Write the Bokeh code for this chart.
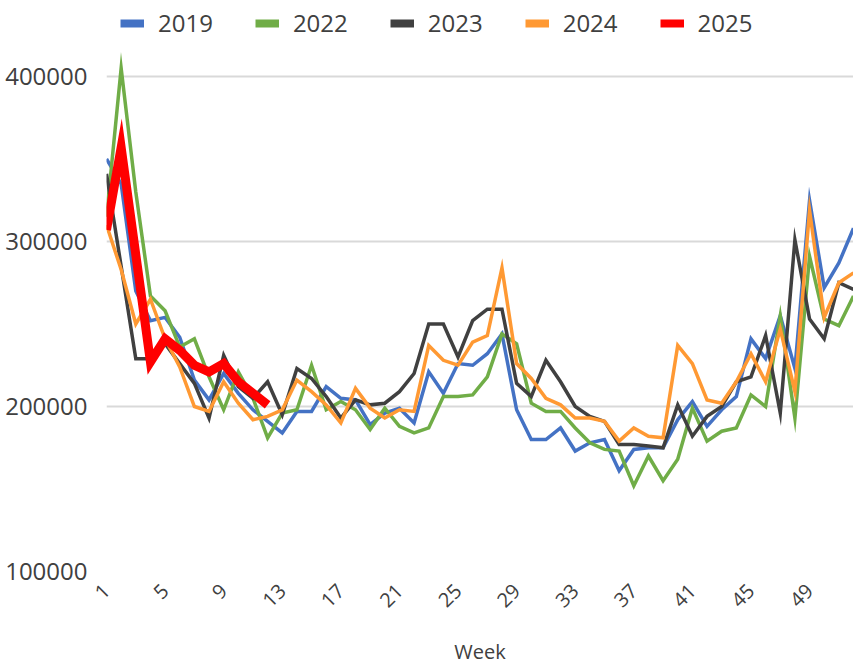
import math
from bokeh.plotting import figure
from bokeh.models import Legend, LegendItem, FixedTicker, ColumnDataSource, Range1d
from bokeh.embed import file_html
from bokeh.resources import INLINE

weeks = list(range(1, 53))

y2019 = [350, 335, 270, 252, 254, 242, 216, 204, 220, 208,
         198, 191, 184, 197, 197, 212, 205, 204, 189, 196,
         199, 190, 221, 208, 226, 225, 232, 244, 198, 180,
         180, 187, 173, 178, 180, 161, 174, 175, 175, 192,
         203, 188, 198, 206, 241, 229, 255, 223, 325, 272,
         287, 308]
y2022 = [315, 405, 330, 267, 258, 236, 241, 218, 198, 221,
         205, 181, 196, 198, 225, 198, 203, 198, 186, 199,
         188, 184, 187, 206, 206, 207, 218, 244, 238, 202,
         197, 197, 187, 178, 174, 173, 152, 170, 155, 168,
         199, 179, 185, 187, 207, 200, 255, 193, 291, 253,
         249, 267]
y2023 = [341, 285, 229, 229, 238, 226, 214, 193, 231, 212,
         205, 215, 195, 223, 217, 206, 193, 204, 201, 202,
         209, 220, 250, 250, 230, 252, 259, 259, 214, 206,
         228, 215, 200, 194, 191, 177, 177, 176, 175, 201,
         182, 194, 200, 215, 218, 243, 196, 301, 253, 241,
         275, 271]
y2024 = [310, 283, 250, 265, 241, 224, 200, 197, 215, 202,
         192, 194, 198, 216, 209, 201, 190, 211, 199, 193,
         198, 197, 237, 228, 225, 239, 243, 284, 226, 217,
         205, 201, 193, 193, 191, 179, 187, 182, 181, 237,
         226, 204, 202, 215, 232, 215, 247, 209, 319, 254,
         275, 281]
y2025 = [307, 357, 292, 227, 241, 234, 225, 221, 226, 215, 208, 201]

series_names = ["2019", "2022", "2023", "2024", "2025"]
series_values = [y2019, y2022, y2023, y2024, y2025]
series_colors = ["#4472C4", "#70AD47", "#404040", "#FF9933", "#FF0000"]
series_widths = [3.5, 3.5, 3.5, 3.5, 9]

y_ticks = [100000, 200000, 300000, 400000]
y_tick_labels = ["100000", "200000", "300000", "400000"]
x_ticks = [1, 5, 9, 13, 17, 21, 25, 29, 33, 37, 41, 45, 49]
x_tick_labels = [str(t) for t in x_ticks]

FONT = "Open Sans"
TXT = "#404040"

# frame spans from the top of the canvas (legend area) down to the 100000 line
p = figure(frame_width=747, frame_height=571,
           x_range=(1, 52), y_range=(100000, 446060),
           output_backend="svg", toolbar_location=None,
           min_border_left=106, min_border_right=0,
           min_border_top=0, min_border_bottom=95)
p.outline_line_color = None
p.background_fill_color = "white"
p.border_fill_color = "white"
# a range far away from the data, used only so that legend swatches can be thick
p.extra_y_ranges = {"swatch": Range1d(1e9, 2e9)}

p.xgrid.visible = False
p.ygrid.ticker = FixedTicker(ticks=y_ticks)
p.ygrid.grid_line_color = "#D9D9D9"
p.ygrid.grid_line_width = 2

p.yaxis.ticker = FixedTicker(ticks=y_ticks)
p.yaxis.major_label_overrides = {v: s for v, s in zip(y_ticks, y_tick_labels)}
p.yaxis.axis_line_color = None
p.yaxis.major_tick_line_color = None
p.yaxis.minor_tick_line_color = None
p.yaxis.major_label_text_font = FONT
p.yaxis.major_label_text_font_size = "24px"
p.yaxis.major_label_text_color = TXT
p.yaxis.major_label_standoff = 13

p.xaxis.ticker = FixedTicker(ticks=x_ticks)
p.xaxis.major_label_overrides = {v: s for v, s in zip(x_ticks, x_tick_labels)}
p.xaxis.axis_line_color = None
p.xaxis.major_tick_line_color = None
p.xaxis.minor_tick_line_color = None
p.xaxis.major_label_text_font = FONT
p.xaxis.major_label_text_font_size = "20px"
p.xaxis.major_label_text_color = TXT
p.xaxis.major_label_orientation = math.pi / 4
p.xaxis.major_label_standoff = 10
p.xaxis.axis_label = "Week"
p.xaxis.axis_label_text_font = FONT
p.xaxis.axis_label_text_font_size = "20px"
p.xaxis.axis_label_text_font_style = "normal"
p.xaxis.axis_label_text_color = TXT
p.xaxis.axis_label_standoff = 21

items = []
for name, vals, col, w in zip(series_names, series_values, series_colors, series_widths):
    src = ColumnDataSource(dict(x=weeks[:len(vals)], y=[v * 1000 for v in vals]))
    p.line("x", "y", source=src, line_color=col, line_width=w, line_join="miter")
    swatch = p.line("x", "y", source=src, line_color=col, line_width=8,
                    y_range_name="swatch")
    items.append(LegendItem(label=name, renderers=[swatch]))

legend = Legend(items=items, orientation="horizontal", location=(14, 532),
                glyph_width=24, glyph_height=20, label_standoff=14, spacing=42,
                padding=0, margin=0, border_line_color=None, background_fill_alpha=0,
                label_text_font=FONT, label_text_font_size="24px", label_text_color=TXT)
p.add_layout(legend)

open("out.html", "w").write(file_html(p, INLINE))
